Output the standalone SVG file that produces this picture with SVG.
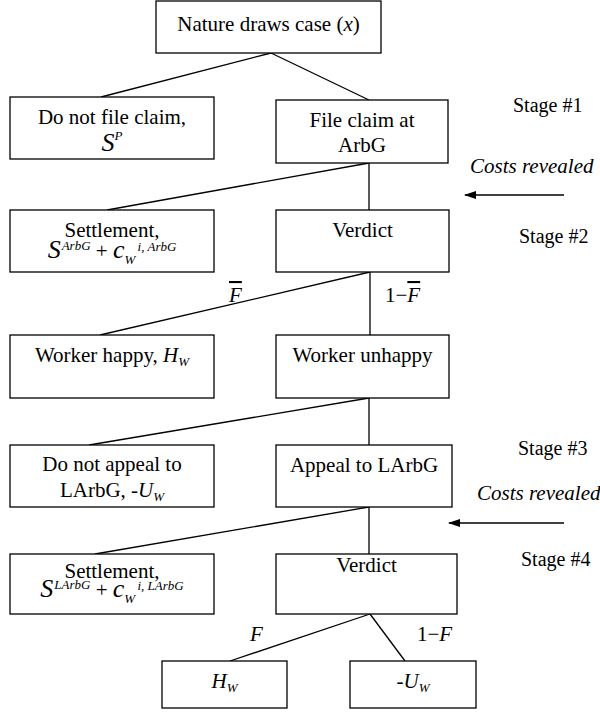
<svg xmlns="http://www.w3.org/2000/svg" width="600" height="713" viewBox="0 0 600 713">
<defs>
<style>
text{font-family:"Liberation Serif","Times New Roman",Tinos,"DejaVu Serif",serif;font-size:21px;fill:#000}
.c{text-anchor:middle}
.i{font-style:italic}
.big{font-size:26px}
.sm{font-size:13px}
.st{font-size:20px}
rect{fill:#fff;stroke:#000;stroke-width:1.3}
.ln line{stroke:#000;stroke-width:1.3}
</style>
<marker id="ah" markerWidth="12" markerHeight="8" refX="11" refY="4" orient="auto" markerUnits="userSpaceOnUse">
<path d="M0,0 L12,4 L0,8 Z" fill="#000"/>
</marker>
</defs>
<g id="connectors" class="ln">
<line x1="271" y1="53" x2="101" y2="97"/>
<line x1="271" y1="53" x2="369" y2="100"/>
<line x1="369" y1="163" x2="107" y2="210"/>
<line x1="369" y1="163" x2="369" y2="210"/>
<line x1="370" y1="272" x2="100" y2="335"/>
<line x1="370" y1="272" x2="370" y2="335"/>
<line x1="369" y1="398" x2="89" y2="445"/>
<line x1="369" y1="398" x2="369" y2="445"/>
<line x1="369" y1="507" x2="95" y2="554"/>
<line x1="369" y1="507" x2="369" y2="554"/>
<line x1="370" y1="614" x2="230" y2="661"/>
<line x1="370" y1="614" x2="405" y2="661"/>
<line x1="564" y1="195" x2="465" y2="195" marker-end="url(#ah)"/>
<line x1="564" y1="523" x2="449" y2="523" marker-end="url(#ah)"/>
</g>
<g id="n_nature"><rect x="156" y="1" width="225" height="52"/><text class="c" x="268.5" y="31">Nature draws case (<tspan class="i">x</tspan>)</text></g>
<g id="n_nofile"><rect x="10" y="97" width="204" height="62"/><text class="c" x="112" y="124">Do not file claim,</text><text class="c" x="112" y="151"><tspan class="i big">S</tspan><tspan class="i sm" dy="-11">P</tspan></text></g>
<g id="n_file"><rect x="276" y="100" width="172" height="63"/><text class="c" x="362" y="127">File claim at</text><text class="c" x="362" y="152">ArbG</text></g>
<g id="n_settle1"><rect x="10" y="210" width="204" height="62"/><text class="c" x="112" y="237">Settlement,</text><text class="c" x="112" y="258"><tspan class="i big">S</tspan><tspan class="i sm" dx="1" dy="-8">ArbG</tspan><tspan dy="8"> + </tspan><tspan class="i big">c</tspan><tspan class="i sm" dy="6">W</tspan><tspan class="i sm" dx="3" dy="-13">i, ArbG</tspan></text></g>
<g id="n_verdict1"><rect x="276" y="210" width="173" height="62"/><text class="c" x="362.5" y="237">Verdict</text></g>
<g id="n_happy"><rect x="10" y="335" width="204" height="63"/><text class="c" x="112" y="362">Worker happy, <tspan class="i">H</tspan><tspan class="i sm" dy="4">W</tspan></text></g>
<g id="n_unhappy"><rect x="276" y="335" width="173" height="63"/><text class="c" x="362.5" y="362">Worker unhappy</text></g>
<g id="n_noappeal"><rect x="10" y="445" width="204" height="62"/><text class="c" x="112" y="471">Do not appeal to</text><text class="c" x="112" y="497">LArbG, -<tspan class="i">U</tspan><tspan class="i sm" dy="4">W</tspan></text></g>
<g id="n_appeal"><rect x="276" y="445" width="176" height="62"/><text class="c" x="364" y="472">Appeal to LArbG</text></g>
<g id="n_settle2"><rect x="10" y="554" width="204" height="60"/><text class="c" x="112" y="578">Settlement,</text><text class="c" x="112" y="597"><tspan class="i big">S</tspan><tspan class="i sm" dx="1" dy="-8">LArbG</tspan><tspan dy="8"> + </tspan><tspan class="i big">c</tspan><tspan class="i sm" dy="6">W</tspan><tspan class="i sm" dx="3" dy="-13">i, LArbG</tspan></text></g>
<g id="n_verdict2"><rect x="276" y="554" width="181" height="60"/><text class="c" x="366.5" y="572">Verdict</text></g>
<g id="n_hw"><rect x="162" y="661" width="125" height="47"/><text class="c" x="224.5" y="688"><tspan class="i">H</tspan><tspan class="i sm" dy="4">W</tspan></text></g>
<g id="n_uw"><rect x="350" y="661" width="126" height="47"/><text class="c" x="413" y="688">-<tspan class="i">U</tspan><tspan class="i sm" dy="4">W</tspan></text></g>
<g id="labels">
<text x="229" y="302" class="i" style="text-decoration:overline">F</text>
<text x="385" y="302">1−<tspan class="i" style="text-decoration:overline">F</tspan></text>
<text x="250" y="641" class="i">F</text>
<text x="417" y="641">1−<tspan class="i">F</tspan></text>
<text class="st" x="513" y="112">Stage #1</text>
<text class="i" x="470" y="173">Costs revealed</text>
<text class="st" x="519" y="243">Stage #2</text>
<text class="st" x="518" y="455">Stage #3</text>
<text class="i" x="477" y="500">Costs revealed</text>
<text class="st" x="521" y="566">Stage #4</text>
</g>
</svg>
